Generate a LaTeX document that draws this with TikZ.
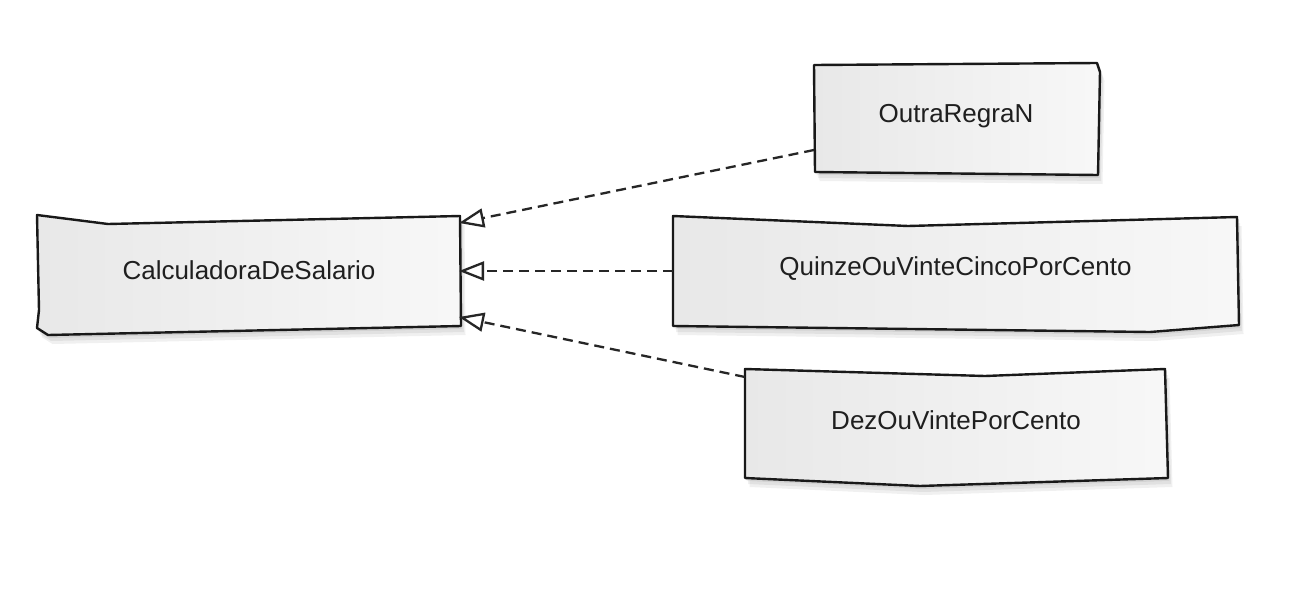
\documentclass[tikz,border=0pt]{standalone}
\usepackage{fontspec}
\setmainfont{Liberation Sans}
\usetikzlibrary{arrows.meta}
\begin{document}
\begin{tikzpicture}[x=1pt,y=-1pt,
  outline/.style={draw=black!90, line width=2.4pt, line join=round, left color=black!9, right color=black!3},
  shadowshape/.style={fill=black, fill opacity=0.06, draw=none},
  cls/.style={draw=none, inner sep=0pt, outer sep=0pt, font=\fontsize{26}{30}\selectfont, text=black!88},
  realize/.style={draw=black!85, line width=2.3pt, dash pattern=on 10pt off 6pt,
    -{Triangle[open, length=25pt, width=19pt, fill=white]}}
]
\useasboundingbox (0,0) rectangle (1304,608);
\fill[white] (0,0) rectangle (1304,608);

% shadows
\foreach \s in {3,6,9}{
  \fill[shadowshape, shift={(\s/2,\s)}] (37,215) -- (108,224) -- (460,216) -- (461,326) -- (48,335) -- (37,328) -- (39,310) -- cycle;
  \fill[shadowshape, shift={(\s/2,\s)}] (814,65) -- (1097,63) -- (1100,72) -- (1098,175) -- (815,172) -- cycle;
  \fill[shadowshape, shift={(\s/2,\s)}] (673,216) -- (908,226) -- (1237,217) -- (1239,325) -- (1150,332) -- (673,326) -- cycle;
  \fill[shadowshape, shift={(\s/2,\s)}] (745,369) -- (985,376) -- (1165,369) -- (1168,478) -- (920,486) -- (745,478) -- cycle;
}

% sketchy outlines
\path[outline] (37,215) -- (108,224) -- (460,216) -- (461,326) -- (48,335) -- (37,328) -- (39,310) -- cycle;
\path[outline] (814,65) -- (1097,63) -- (1100,72) -- (1098,175) -- (815,172) -- cycle;
\path[outline] (673,216) -- (908,226) -- (1237,217) -- (1239,325) -- (1150,332) -- (673,326) -- cycle;
\path[outline] (745,369) -- (985,376) -- (1165,369) -- (1168,478) -- (920,486) -- (745,478) -- cycle;

% nodes
\node[cls, minimum width=424pt, minimum height=115pt] (calc) at (249,270) {CalculadoraDeSalario};
\node[cls, minimum width=284pt, minimum height=109pt] (outra) at (956,116) {OutraRegraN};
\node[cls, minimum width=565pt, minimum height=110pt] (quinze) at (955.5,269) {QuinzeOuVinteCincoPorCento};
\node[cls, minimum width=422pt, minimum height=111pt] (dez) at (956,420) {DezOuVintePorCento};

% realization connectors
\draw[realize] ([yshift=-34pt]outra.west) -- ([xshift=-2pt,yshift=47pt]calc.east);
\draw[realize] ([yshift=-2pt]quinze.west) -- ([xshift=-2pt,yshift=-1pt]calc.east);
\draw[realize] ([yshift=43pt]dez.west) -- ([xshift=-2pt,yshift=-47pt]calc.east);
\end{tikzpicture}
\end{document}
